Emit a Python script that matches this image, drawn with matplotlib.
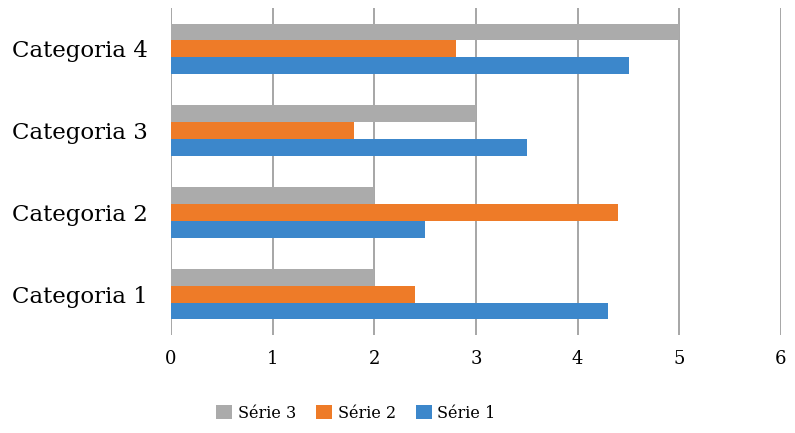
import matplotlib
matplotlib.use("Agg")
import matplotlib.pyplot as plt
import numpy as np

categories = ["Categoria 1", "Categoria 2", "Categoria 3", "Categoria 4"]
serie_1 = [4.3, 2.5, 3.5, 4.5]
serie_2 = [2.4, 4.4, 1.8, 2.8]
serie_3 = [2.0, 2.0, 3.0, 5.0]
series_names = ["Série 1", "Série 2", "Série 3"]
x_ticks = [0, 1, 2, 3, 4, 5, 6]

colors = ["#3C87CB", "#EE7B28", "#ABABAB"]

plt.rcParams["font.family"] = ["DejaVu Serif"]

fig = plt.figure(figsize=(7.95, 4.33), dpi=100)
ax = fig.add_axes([171 / 795, 1 - 335 / 433, 610 / 795, 327 / 433])

y = np.arange(len(categories))
h = 0.205
bars = []
for i, (vals, name, c) in enumerate(zip([serie_1, serie_2, serie_3], series_names, colors)):
    b = ax.barh(y + (i - 1) * h, vals, height=h, color=c, label=name, zorder=3)
    bars.append(b)

ax.set_xlim(0, 6)
ax.set_ylim(-0.5, 3.5)
ax.set_xticks(x_ticks)
ax.set_xticklabels([str(t) for t in x_ticks], fontsize=13)
ax.set_yticks(y)
ax.set_yticklabels(categories, fontsize=16.5)
ax.tick_params(axis="x", length=0, pad=11)
ax.tick_params(axis="y", length=0, pad=16.5)
ax.xaxis.grid(True, color="#A6A6A6", linewidth=1.4, zorder=0)
for s in ax.spines.values():
    s.set_visible(False)

handles = [bars[2], bars[1], bars[0]]
labels = [series_names[2], series_names[1], series_names[0]]
fig.legend(handles, labels, loc="center", bbox_to_anchor=(356 / 795, 1 - 413 / 433),
           ncol=3, frameon=False, fontsize=11.5, handlelength=1.0, handleheight=1.0,
           handletextpad=0.35, columnspacing=1.25)

fig.savefig("out.png", dpi=100)
